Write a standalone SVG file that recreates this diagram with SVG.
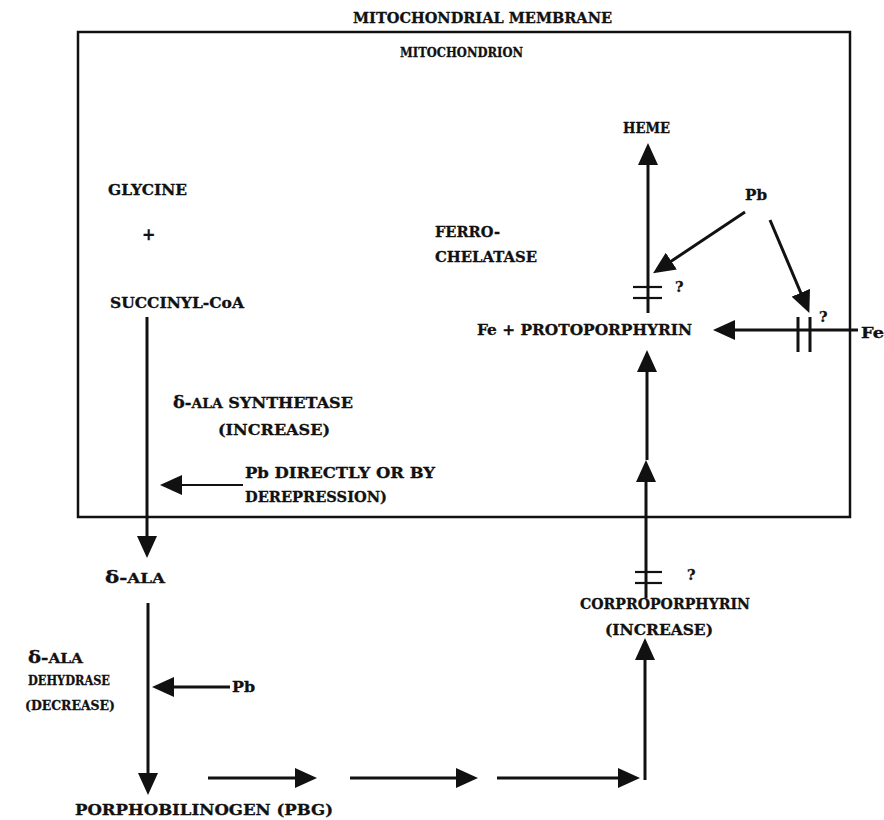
<svg xmlns="http://www.w3.org/2000/svg" width="884" height="820" viewBox="0 0 884 820">
<style>
text{font-family:"DejaVu Serif","Liberation Serif",serif;font-weight:bold;font-size:14.5px;fill:#111;stroke:#111;stroke-width:0.3}
.ln{stroke:#111;stroke-width:3;fill:none}
.thin{stroke:#111;stroke-width:2.2;fill:none}
.ar{marker-end:url(#ah)}
.big{font-size:16px}
.sm{font-size:12.5px}
.s13{font-size:13.5px}
</style>
<defs>
<marker id="ah" viewBox="0 0 22 20" refX="16" refY="10" markerWidth="22" markerHeight="20" markerUnits="userSpaceOnUse" orient="auto">
<path d="M0,0 L22,10 L0,20 Z" fill="#111"/>
</marker>
</defs>
<rect width="884" height="820" fill="#fff"/>
<g id="membrane">
<rect x="78" y="32" width="772" height="485" fill="none" stroke="#111" stroke-width="2.5"/>
<text x="353" y="23" textLength="259" lengthAdjust="spacingAndGlyphs">MITOCHONDRIAL MEMBRANE</text>
<text x="400" y="57" class="s13" textLength="123" lengthAdjust="spacingAndGlyphs">MITOCHONDRION</text>
</g>
<g id="glycine"><text x="108" y="195" textLength="79" lengthAdjust="spacingAndGlyphs">GLYCINE</text><text x="142" y="240" class="big">+</text></g>
<g id="succinyl"><text x="110" y="308" textLength="134" lengthAdjust="spacingAndGlyphs">SUCCINYL-CoA</text></g>
<g id="synthetase">
<text x="173" y="408" textLength="180" lengthAdjust="spacingAndGlyphs"><tspan class="big">δ</tspan>-<tspan class="sm">ALA</tspan> SYNTHETASE</text>
<text x="218" y="435" textLength="112" lengthAdjust="spacingAndGlyphs">(INCREASE)</text>
</g>
<g id="pb-direct">
<text x="245" y="478" textLength="190" lengthAdjust="spacingAndGlyphs">Pb DIRECTLY OR BY</text>
<text x="245" y="502" textLength="142" lengthAdjust="spacingAndGlyphs">DEREPRESSION)</text>
</g>
<g id="ala"><text x="105" y="583" textLength="60" lengthAdjust="spacingAndGlyphs"><tspan class="big">δ</tspan>-<tspan class="sm">ALA</tspan></text></g>
<g id="dehydrase">
<text x="28" y="663" textLength="55" lengthAdjust="spacingAndGlyphs"><tspan class="big">δ</tspan>-<tspan class="sm">ALA</tspan></text>
<text x="28" y="685" class="s13" textLength="82" lengthAdjust="spacingAndGlyphs">DEHYDRASE</text>
<text x="25" y="710" class="s13" textLength="90" lengthAdjust="spacingAndGlyphs">(DECREASE)</text>
</g>
<g id="pb-dehydrase"><text x="232" y="692" textLength="23" lengthAdjust="spacingAndGlyphs">Pb</text></g>
<g id="pbg"><text x="75" y="815" textLength="258" lengthAdjust="spacingAndGlyphs">PORPHOBILINOGEN (PBG)</text></g>
<g id="corpro">
<text x="580" y="609" textLength="170" lengthAdjust="spacingAndGlyphs">CORPROPORPHYRIN</text>
<text x="605" y="635" textLength="108" lengthAdjust="spacingAndGlyphs">(INCREASE)</text>
</g>
<g id="heme"><text x="623" y="133" textLength="47" lengthAdjust="spacingAndGlyphs">HEME</text></g>
<g id="pb-top"><text x="745" y="200" textLength="22" lengthAdjust="spacingAndGlyphs">Pb</text></g>
<g id="ferrochelatase">
<text x="435" y="237" textLength="65" lengthAdjust="spacingAndGlyphs">FERRO-</text>
<text x="435" y="262" textLength="102" lengthAdjust="spacingAndGlyphs">CHELATASE</text>
</g>
<g id="protoporphyrin"><text x="477" y="335" textLength="215" lengthAdjust="spacingAndGlyphs">Fe + PROTOPORPHYRIN</text></g>
<g id="fe-out"><text x="861" y="338" textLength="23" lengthAdjust="spacingAndGlyphs">Fe</text></g>
<g id="connectors">
<line class="ln ar" x1="147" y1="317" x2="147" y2="552"/>
<line class="thin ar" x1="243" y1="485" x2="166" y2="485"/>
<line class="ln ar" x1="148" y1="603" x2="148" y2="789"/>
<line class="ln ar" x1="230" y1="687" x2="158" y2="687"/>
<line class="ln ar" x1="208" y1="778" x2="311" y2="778"/>
<line class="ln ar" x1="350" y1="778" x2="472" y2="778"/>
<line class="ln ar" x1="497" y1="778" x2="634" y2="778"/>
<line class="ln ar" x1="645" y1="780" x2="645" y2="644"/>
<line class="ln ar" x1="646" y1="598" x2="646" y2="466"/>
<line class="ln ar" x1="647" y1="460" x2="647" y2="356"/>
<line class="ln ar" x1="648" y1="313" x2="648" y2="149"/>
<line class="ln ar" x1="745" y1="212" x2="658" y2="270"/>
<line class="ln ar" x1="770" y1="220" x2="807" y2="307.5"/>
<line class="ln ar" x1="858" y1="330" x2="719" y2="330"/>
<line class="thin" x1="633" y1="287" x2="662" y2="287"/>
<line class="thin" x1="633" y1="298" x2="662" y2="298"/>
<line class="thin" x1="635" y1="572" x2="662" y2="572"/>
<line class="thin" x1="635" y1="583" x2="662" y2="583"/>
<line class="ln" x1="798" y1="317" x2="798" y2="352"/>
<line class="ln" x1="810" y1="317" x2="810" y2="352"/>
<text x="675" y="292">?</text>
<text x="687" y="580">?</text>
<text x="819" y="322">?</text>
</g>
</svg>
